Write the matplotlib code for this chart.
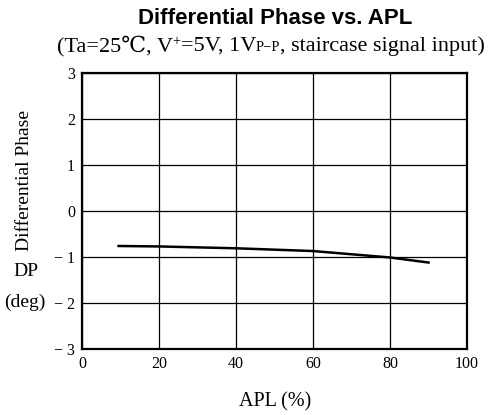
import matplotlib.pyplot as plt

# data
apl = [9.5, 20, 30, 40, 50, 60, 70, 80, 90]
dp = [-0.76, -0.77, -0.79, -0.81, -0.84, -0.87, -0.94, -1.01, -1.12]

x_ticks = [0, 20, 40, 60, 80, 100]
y_ticks = [-3, -2, -1, 0, 1, 2, 3]
y_tick_labels = ['− 3', '− 2', '− 1', '0', '1', '2', '3']

serif = ['Liberation Serif', 'DejaVu Serif']
W, H = 495, 415

fig = plt.figure(figsize=(4.95, 4.15), dpi=100)
ax = fig.add_axes([0.1657, 0.159, 0.7778, 0.665])

ax.plot(apl, dp, color='black', linewidth=1.8)

ax.set_xlim(0, 100)
ax.set_ylim(-3, 3)
ax.set_xticks(x_ticks)
ax.set_yticks(y_ticks)
ax.set_xticklabels([str(t) for t in x_ticks], family=serif, fontsize=11.5)
ax.set_yticklabels(y_tick_labels, family=serif, fontsize=11.5)
ax.tick_params(length=0, pad=5)
ax.grid(True, color='black', linewidth=0.9)
for s in ax.spines.values():
    s.set_linewidth(1.6)

# title
fig.text(0.556, 0.955, 'Differential Phase vs. APL', ha='center', va='center',
         family='Liberation Sans', fontweight='bold', fontsize=16)

# subtitle built from pieces so the + and P-P can be smaller
pieces = [('(Ta=25℃, V', 16, 0), ('+', 10, 6), ('=5V, 1V', 16, 0),
          ('P−P', 10.5, 0), (', staircase signal input)', 16, 0)]
renderer = fig.canvas.get_renderer()
baseline = H - 51  # pixels from bottom
center = 271


def place(x0):
    texts = []
    x = x0
    for txt, size, rise in pieces:
        t = fig.text(x / W, (baseline + rise) / H, txt, ha='left', va='baseline',
                     family=serif, fontsize=size)
        x = t.get_window_extent(renderer).x1
        texts.append(t)
    return texts, x - x0


texts, total = place(0)
for t in texts:
    t.remove()
place(center - total / 2)

# axis labels
fig.text(25 / W, 1 - 180 / H, 'Differential Phase', rotation=90, ha='center', va='center',
         family=serif, fontsize=14)
fig.text(26 / W, 1 - 271 / H, 'DP', ha='center', va='center', family=serif, fontsize=14)
fig.text(25 / W, 1 - 302 / H, '(deg)', ha='center', va='center', family=serif, fontsize=14)
fig.text(275 / W, 1 - 402 / H, 'APL (%)', ha='center', va='center', family=serif, fontsize=14.5)

fig.savefig('out.png', dpi=100, facecolor='white')
